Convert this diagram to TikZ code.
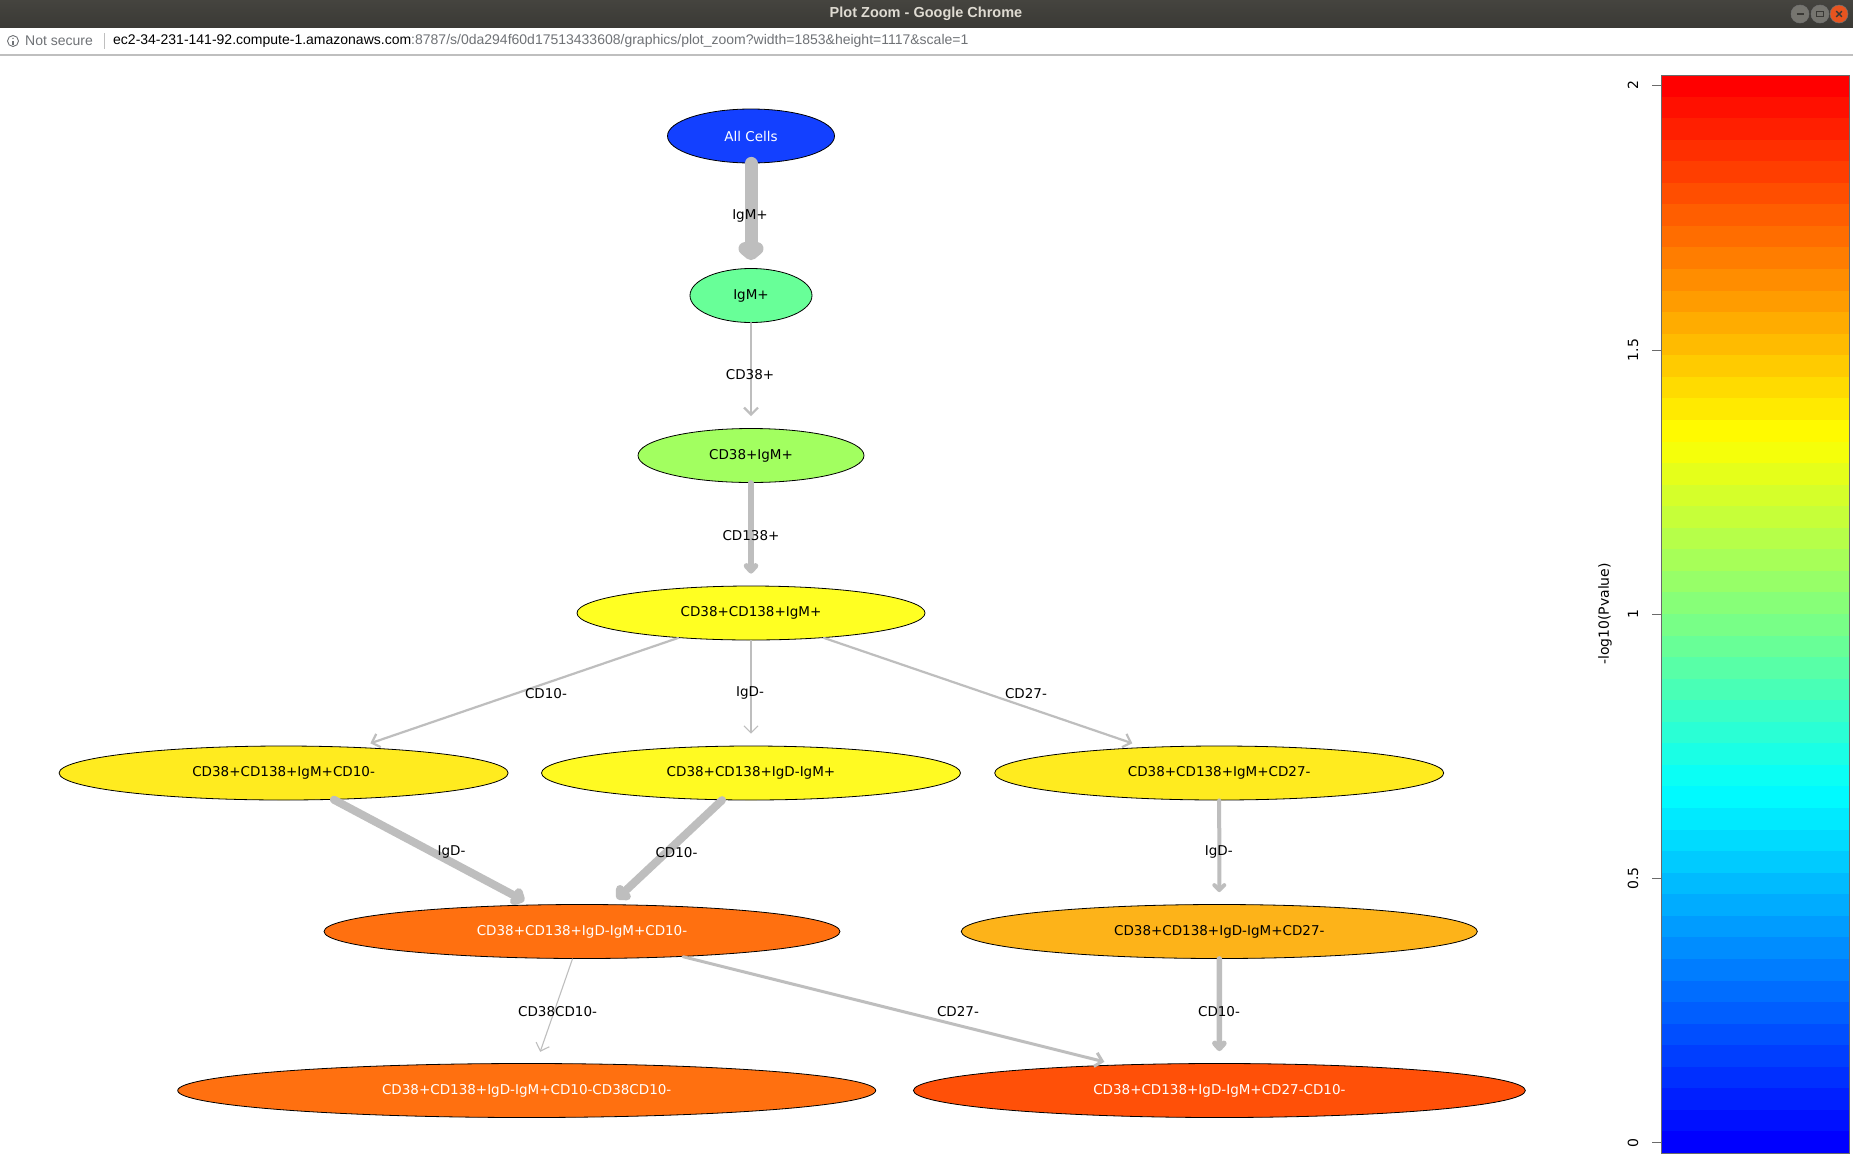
\documentclass[tikz,border=0pt]{standalone}
\usepackage{fontspec}
\setmainfont{DejaVu Sans}
\newfontfamily\uifont{Liberation Sans}
\usetikzlibrary{shapes.geometric,arrows.meta}

\definecolor{edgegrey}{HTML}{BEBEBE}
\definecolor{cAll}{HTML}{1340FF}
\definecolor{cIgM}{HTML}{68FF98}
\definecolor{cCDa}{HTML}{A2FF60}
\definecolor{cCDb}{HTML}{FFFF22}
\definecolor{cRowA}{HTML}{FFEB1F}
\definecolor{cRowB}{HTML}{FFFA22}
\definecolor{cOrange}{HTML}{FF7010}
\definecolor{cAmber}{HTML}{FDB319}
\definecolor{cRed}{HTML}{FF5008}
\definecolor{titlebar}{HTML}{3A3935}
\definecolor{titletop}{HTML}{45443F}
\definecolor{titletext}{HTML}{DFDBD2}
\definecolor{btngrey}{HTML}{76756F}
\definecolor{btnclosefill}{HTML}{E8541F}
\definecolor{urlgrey}{HTML}{6F7276}
\definecolor{barframe}{HTML}{6A6A6A}

\tikzset{
  cell/.style={ellipse, draw=black, line width=0.8pt, inner sep=0pt,
    minimum height=54pt, font=\fontsize{13.5}{16}\selectfont},
  lbl/.style={inner sep=0pt, font=\fontsize{13.5}{16}\selectfont},
  link/.style={draw=edgegrey, line cap=round, shorten >=12pt},
  wa/.style={link, line width=1.1pt, -{Straight Barb[length=7pt,width=14pt]}},
  wb/.style={link, line width=2.2pt, -{Straight Barb[length=7pt,width=14pt]}},
  wc/.style={link, line width=3pt, -{Straight Barb[length=7pt,width=14pt]}},
  wd/.style={link, line width=4pt, -{Straight Barb[length=5pt,width=10pt,round]}},
  we/.style={link, line width=5.5pt, -{Straight Barb[length=5pt,width=9pt,round]}},
  wf/.style={link, line width=8pt, shorten >=8pt, -{Straight Barb[length=5pt,width=10pt,round]}},
  wg/.style={link, line width=13pt, shorten >=8pt, -{Straight Barb[length=5pt,width=12pt,round]}},
  ui/.style={inner sep=0pt, font=\uifont\fontsize{14}{16}\selectfont},
  tick/.style={inner sep=0pt, rotate=90, font=\fontsize{14}{16}\selectfont},
  winbtn/.style={circle, draw=black!55, line width=0.5pt, minimum size=18pt, inner sep=0pt}
}

\begin{document}
\begin{tikzpicture}[x=1pt,y=-1pt]
\useasboundingbox (0,0) rectangle (1853,1173);
\fill[white] (0,0) rectangle (1853,1173);

% window title bar
\shade[top color=titletop, bottom color=titlebar] (0,0) rectangle (1853,28);
\node[inner sep=0pt, text=titletext, font=\uifont\bfseries\fontsize{14.5}{16}\selectfont] (wintitle) at (926,14) {Plot Zoom - Google Chrome};
\node[winbtn, fill=btngrey] (btnmin) at (1800,14) {};
\node[winbtn, fill=btngrey] (btnmax) at (1820,14) {};
\node[winbtn, fill=btnclosefill] (btnclose) at (1839,14) {};
\draw[titlebar, line width=1.4pt] ([xshift=-3.5pt]btnmin.center) -- ([xshift=3.5pt]btnmin.center);
\draw[titlebar, line width=1.2pt] ([xshift=-3.5pt,yshift=-2.8pt]btnmax.center) rectangle ([xshift=3.5pt,yshift=2.8pt]btnmax.center);
\draw[titlebar, line width=1.4pt] ([xshift=-2.8pt,yshift=-2.8pt]btnclose.center) -- ([xshift=2.8pt,yshift=2.8pt]btnclose.center)
  ([xshift=-2.8pt,yshift=2.8pt]btnclose.center) -- ([xshift=2.8pt,yshift=-2.8pt]btnclose.center);

% address bar
\fill[white] (0,28) rectangle (1853,54);
\fill[black!25] (0,54) rectangle (1853,56);
\node[circle, draw=urlgrey, line width=0.9pt, minimum size=11pt, inner sep=0pt] (infoicon) at (13,41) {};
\fill[urlgrey] (infoicon.center) ++(-0.6,-0.5) rectangle ++(1.3,4);
\fill[urlgrey] (infoicon.center) ++(0,-2.6) circle (0.8);
\node[ui, anchor=west, text=urlgrey] (notsecure) at (25,41) {Not secure};
\draw[black!25, line width=1pt] (104,33) -- (104,49);
\node[ui, anchor=west] (url) at (113,41) {\color{black}ec2-34-231-141-92.compute-1.amazonaws.com\color{urlgrey}:8787/s/0da294f60d17513433608/graphics/plot\_zoom?width=1853\&height=1117\&scale=1};

% gating tree
\node[cell, fill=cAll, text=white, minimum width=167pt] (all) at (751,136) {All Cells};
\node[cell, fill=cIgM, minimum width=122pt] (igm) at (751,295.5) {IgM+};
\node[cell, fill=cCDa, minimum width=226pt] (cdA) at (751,455.5) {CD38+IgM+};
\node[cell, fill=cCDb, minimum width=348pt] (cdB) at (751,613) {CD38+CD138+IgM+};
\node[cell, fill=cRowA, minimum width=449pt] (rfl) at (283.6,773) {CD38+CD138+IgM+CD10-};
\node[cell, fill=cRowB, minimum width=419pt] (rfm) at (751,773) {CD38+CD138+IgD-IgM+};
\node[cell, fill=cRowA, minimum width=449pt] (rfr) at (1219.2,773) {CD38+CD138+IgM+CD27-};
\node[cell, fill=cOrange, text=white, minimum width=516pt] (rvl) at (582,931.5) {CD38+CD138+IgD-IgM+CD10-};
\node[cell, fill=cAmber, minimum width=516pt] (rvr) at (1219.3,931.5) {CD38+CD138+IgD-IgM+CD27-};
\node[cell, fill=cOrange, text=white, minimum width=698pt] (rsl) at (526.7,1090.5) {CD38+CD138+IgD-IgM+CD10-CD38CD10-};
\node[cell, fill=cRed, text=white, minimum width=612pt] (rsr) at (1219.4,1090.5) {CD38+CD138+IgD-IgM+CD27-CD10-};

\draw[wg] (all) -- (igm);
\draw[wb] (igm) -- (cdA);
\draw[we] (cdA) -- (cdB);
\draw[wb] (cdB) -- (rfl);
\draw[wa] (cdB) -- (rfm);
\draw[wb] (cdB) -- (rfr);
\draw[wf] (rfl) -- (rvl);
\draw[wf] (rfm) -- (rvl);
\draw[wd] (rfr) -- (rvr);
\draw[wa] (rvl) -- (rsl);
\draw[wc] (rvl) -- (rsr);
\draw[we] (rvr) -- (rsr);

\node[lbl] (lA) at (750,216) {IgM+};
\node[lbl] (lB) at (750,374.6) {CD38+};
\node[lbl] (lC) at (751,535.3) {CD138+};
\node[lbl] (lD) at (546,694) {CD10-};
\node[lbl] (lE) at (750,692.5) {IgD-};
\node[lbl] (lF) at (1026,694) {CD27-};
\node[lbl] (lG) at (451.5,851.7) {IgD-};
\node[lbl] (lH) at (676.5,852.3) {CD10-};
\node[lbl] (lI) at (1218.8,851.7) {IgD-};
\node[lbl] (lJ) at (557.6,1012) {CD38CD10-};
\node[lbl] (lK) at (958,1012) {CD27-};
\node[lbl] (lL) at (1219,1012) {CD10-};

% colour key
\foreach \i in {0,...,49}{
  \pgfmathsetmacro\tval{3*\i/49}
  \pgfmathsetmacro\bandR{min(max(\tval-1,0),1)}
  \pgfmathsetmacro\bandG{max(min(min(\tval,3-\tval),1),0)}
  \pgfmathsetmacro\bandB{min(max(2-\tval,0),1)}
  \definecolor{bandc}{rgb}{\bandR,\bandG,\bandB}
  \fill[bandc] (1661,{1153-21.56*\i}) rectangle (1849,{1153-21.56*(\i+1)-0.4});
}
\draw[barframe, line width=1pt] (1661,75) rectangle (1849,1153);
\foreach \v/\y/\k in {0/1142.7/a, 0.5/878.3/b, 1/614.3/c, 1.5/350/d, 2/85.3/e}{
  \draw[barframe, line width=1pt] (1652,\y) -- (1661,\y);
  \node[tick] (tk\k) at (1633,\y) {\v};
}
\node[tick] (keytitle) at (1605,614) {-log10(Pvalue)};
\end{tikzpicture}
\end{document}
